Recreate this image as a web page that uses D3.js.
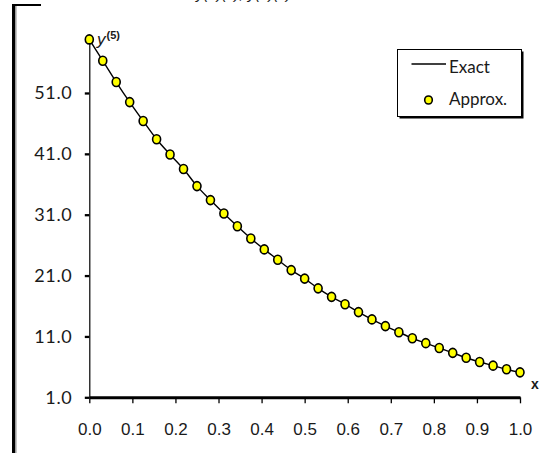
<!DOCTYPE html>
<meta charset="utf-8">
<style>
  body { margin: 0; background: #fff; }
  svg { display: block; }
  text { font-family: "Liberation Sans", Arial, sans-serif; fill: #1a1a1a; }
</style>
<svg></svg>
<script src="https://cdnjs.cloudflare.com/ajax/libs/d3/7.8.5/d3.min.js"></script>
<script>
// DATA
var xValues = [0, 0.03125, 0.0625, 0.09375, 0.125, 0.15625, 0.1875, 0.21875,
               0.25, 0.28125, 0.3125, 0.34375, 0.375, 0.40625, 0.4375, 0.46875,
               0.5, 0.53125, 0.5625, 0.59375, 0.625, 0.65625, 0.6875, 0.71875,
               0.75, 0.78125, 0.8125, 0.84375, 0.875, 0.90625, 0.9375, 0.96875, 1];
var approxValues = [59.8, 56.3, 52.8, 49.5, 46.4, 43.4, 40.9, 38.5,
                    35.7, 33.4, 31.2, 29.1, 27.1, 25.3, 23.6, 21.9,
                    20.5, 18.9, 17.5, 16.3, 15.0, 13.8, 12.7, 11.7,
                    10.7, 9.9, 9.1, 8.3, 7.5, 6.8, 6.2, 5.6, 5.1];
// exact solution passes through the same points
var exactValues = approxValues.slice();
var xTicks = [0, 0.1, 0.2, 0.3, 0.4, 0.5, 0.6, 0.7, 0.8, 0.9, 1.0];
var yTicks = [1, 11, 21, 31, 41, 51];
var seriesNames = ["Exact", "Approx."];

var svg = d3.select("svg")
    .attr("width", 553)
    .attr("height", 453);

// scales
var x = d3.scaleLinear().domain([0, 1]).range([89.3, 520]);
var y = d3.scaleLinear().domain([1, 60]).range([397.3, 38.2]);

// frame remains at left / top
svg.append("line")
   .attr("x1", 13.5).attr("x2", 13.5).attr("y1", 4).attr("y2", 453)
   .attr("stroke", "#000").attr("stroke-width", 3);
svg.append("line")
   .attr("x1", 15.8).attr("x2", 15.8).attr("y1", 6).attr("y2", 453)
   .attr("stroke", "#999").attr("stroke-width", 1.5);
svg.append("line")
   .attr("x1", 12).attr("x2", 41).attr("y1", 5).attr("y2", 5)
   .attr("stroke", "#000").attr("stroke-width", 2);

// title, cropped by the top edge in the original
svg.append("text")
   .attr("x", 196).attr("y", -1)
   .style("font-style", "italic")
   .style("font-size", "15px")
   .attr("fill", "#555")
   .text("y(5)(x), y(5)(x)");

// y axis
var yAxis = svg.append("g")
   .attr("transform", "translate(" + x(0) + ",0)")
   .call(d3.axisLeft(y).tickValues(yTicks).tickSize(4.5).tickSizeOuter(0)
           .tickPadding(12.5).tickFormat(d3.format(".1f")));
yAxis.select(".domain").attr("stroke", "#000").attr("stroke-width", 1.2);
yAxis.selectAll(".tick line").attr("stroke", "#000").attr("stroke-width", 2.3);
yAxis.selectAll(".tick text")
   .style("font-family", "Lato, 'Open Sans', sans-serif")
   .style("font-size", "18px")
   .style("letter-spacing", "0.6px")
   .attr("fill", "#222");

// x axis
var xAxis = svg.append("g")
   .attr("transform", "translate(0," + y(1) + ")")
   .call(d3.axisBottom(x).tickValues(xTicks).tickSize(6).tickSizeOuter(0)
           .tickPadding(20).tickFormat(d3.format(".1f")));
xAxis.select(".domain").attr("stroke", "#000").attr("stroke-width", 3);
xAxis.selectAll(".tick line").attr("stroke", "#000").attr("stroke-width", 1.3);
xAxis.selectAll(".tick text")
   .style("font-size", "17px")
   .attr("fill", "#333");

// axis names
var yName = svg.append("text").attr("x", 97).attr("y", 45)
   .style("font-size", "17px");
yName.append("tspan").style("font-style", "italic").text("y");
yName.append("tspan").attr("dx", 1).attr("dy", -6)
   .style("font-size", "11px").style("font-weight", "bold").text("(5)");
svg.append("text").attr("x", 531).attr("y", 389)
   .style("font-size", "14px").style("font-weight", "bold").text("x");

// exact line
var line = d3.line()
    .x(function(d, i) { return x(xValues[i]); })
    .y(function(d) { return y(d); })
    .curve(d3.curveMonotoneX);
svg.append("path")
   .datum(exactValues)
   .attr("d", line)
   .attr("fill", "none")
   .attr("stroke", "#000")
   .attr("stroke-width", 1.4);

// approx markers
svg.append("g").selectAll("ellipse")
   .data(approxValues)
   .enter().append("ellipse")
   .attr("cx", function(d, i) { return x(xValues[i]); })
   .attr("cy", function(d) { return y(d); })
   .attr("rx", 4)
   .attr("ry", 4.5)
   .attr("fill", "#ffff00")
   .attr("stroke", "#000")
   .attr("stroke-width", 1.6);

// legend
var lg = svg.append("g").attr("transform", "translate(397.5,49.5)");
lg.append("rect").attr("x", 2).attr("y", 2).attr("width", 124).attr("height", 67)
  .attr("fill", "#000");
lg.append("rect").attr("width", 124).attr("height", 67)
  .attr("fill", "#fff").attr("stroke", "#000").attr("stroke-width", 1);
lg.append("line").attr("x1", 14).attr("x2", 48.5).attr("y1", 14.5).attr("y2", 14.5)
  .attr("stroke", "#000").attr("stroke-width", 1.6);
lg.append("ellipse").attr("cx", 31).attr("cy", 50.5).attr("rx", 3.8).attr("ry", 4)
  .attr("fill", "#ffff00").attr("stroke", "#000").attr("stroke-width", 1.6);
lg.selectAll("text.name")
  .data(seriesNames)
  .enter().append("text")
  .attr("class", "name")
  .attr("x", 51.5)
  .attr("y", function(d, i) { return i === 0 ? 23.5 : 55.5; })
  .style("font-family", "Lato, 'Open Sans', sans-serif")
  .style("font-size", "17px")
  .attr("fill", "#111")
  .text(function(d) { return d; });
</script>
